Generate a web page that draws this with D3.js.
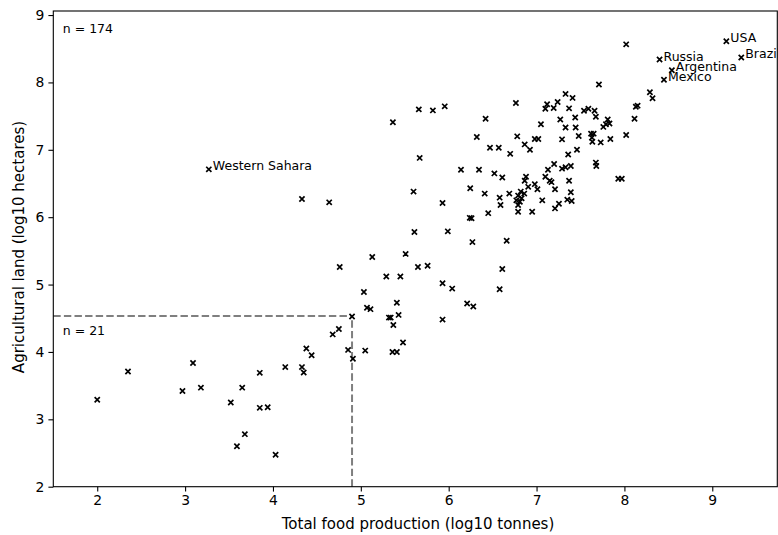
<!DOCTYPE html>
<html>
<head>
<meta charset="utf-8">
<script src="https://cdn.jsdelivr.net/npm/d3@7"></script>
<style>
  html, body { margin: 0; padding: 0; background: #fff; }
  svg { display: block; font-family: "DejaVu Sans", sans-serif; }
</style>
</head>
<body>
<svg id="chart" width="778" height="535"></svg>
<script>
// ---- Data (log10 values) ----
const foodProduction = [
  2.00, 2.35, 2.97, 3.09, 3.18, 3.52, 3.65, 3.59, 3.68, 3.85, 3.85, 3.94, 4.03, 4.14,
  4.38, 4.44, 4.33, 4.35, 4.855, 4.91, 5.05, 5.36, 5.41, 5.48,
  5.035, 5.07, 5.11, 4.90, 4.75, 4.68, 5.41, 5.32, 5.34, 5.43, 5.37, 5.93, 6.04, 6.21, 5.93, 6.28, 6.58,
  4.33, 4.64, 5.60, 5.93, 5.61, 5.99, 6.27, 6.66, 5.13, 5.51, 4.76, 5.65, 5.76, 5.29, 5.45, 6.61,
  3.27,
  5.365, 5.66, 5.82, 5.955, 5.67, 6.42, 6.765, 7.05, 6.32, 6.47, 6.57, 6.78, 6.70, 6.865, 6.925, 6.98, 7.02,
  6.14, 6.345, 6.52, 6.61, 6.88, 7.10,
  6.245, 6.41, 6.69, 6.58, 6.59, 6.24, 6.26, 6.45, 6.79, 6.95, 7.065,
  7.10, 7.12, 7.195, 7.24, 6.865, 7.20, 7.13, 7.15, 7.17, 6.98, 7.01, 6.905, 7.21,
  6.82, 6.86, 6.79, 6.83, 6.77, 6.81, 6.79, 7.21, 7.255,
  7.71, 7.33, 7.41, 8.29, 8.32, 7.37, 7.54, 7.59, 7.66, 7.675, 8.13, 8.15, 8.115,
  7.27, 7.44, 7.445, 7.33, 7.81, 7.79, 7.83, 7.76, 7.29, 7.48, 7.62, 7.65, 7.63, 7.635,
  7.73, 7.84, 8.02, 7.46, 7.36, 7.29, 7.33, 7.39, 7.675, 7.68, 7.37, 7.39, 7.35, 7.40,
  7.93, 7.97, 8.02, 8.40, 8.54, 8.45, 9.16, 9.33
];
const agriculturalLand = [
  3.29, 3.71, 3.42, 3.835, 3.47, 3.25, 3.47, 2.60, 2.78, 3.69, 3.17, 3.18, 2.475, 3.775,
  4.05, 3.95, 3.775, 3.695, 4.03, 3.90, 4.02, 4.00, 4.00, 4.14,
  4.89, 4.655, 4.635, 4.525, 4.34, 4.26, 4.73, 4.51, 4.51, 4.55, 4.40, 5.02, 4.94, 4.72, 4.48, 4.675, 4.93,
  6.27, 6.22, 6.38, 6.21, 5.78, 5.79, 5.63, 5.65, 5.41, 5.455, 5.26, 5.26, 5.28, 5.12, 5.12, 5.23,
  6.71,
  7.41, 7.60, 7.585, 7.645, 6.88, 7.46, 7.695, 7.38, 7.19, 7.03, 7.03, 7.20, 6.94, 7.08, 7.00, 7.16, 7.16,
  6.705, 6.705, 6.65, 6.59, 6.60, 6.60,
  6.43, 6.35, 6.35, 6.29, 6.18, 5.99, 5.985, 6.06, 6.08, 6.08, 6.25,
  7.61, 7.675, 7.62, 7.71, 6.54, 6.79, 6.705, 6.54, 6.52, 6.49, 6.415, 6.45, 6.415,
  6.38, 6.35, 6.32, 6.28, 6.25, 6.23, 6.18, 6.13, 6.20,
  7.97, 7.83, 7.77, 7.855, 7.765, 7.615, 7.58, 7.61, 7.58, 7.49, 7.64, 7.655, 7.46,
  7.45, 7.48, 7.33, 7.33, 7.45, 7.38, 7.39, 7.34, 7.155, 7.205, 7.24, 7.24, 7.18, 7.12,
  7.11, 7.16, 7.22, 7.00, 6.93, 6.72, 6.74, 6.76, 6.81, 6.76, 6.54, 6.37, 6.26, 6.24,
  6.57, 6.57, 8.565, 8.34, 8.18, 8.04, 8.61, 8.37
];

// Annotated countries
const labelNames = ["Western Sahara", "Russia", "Argentina", "Mexico", "USA", "Brazil"];
const labelFood  = [3.27, 8.40, 8.54, 8.45, 9.16, 9.33];
const labelLand  = [6.71, 8.34, 8.18, 8.04, 8.61, 8.37];

// Threshold lines and counts
const thresholdFood = 4.90;
const thresholdLand = 4.535;
const countTotal = "n = 174";
const countLow = "n = 21";

const xTicks = [2, 3, 4, 5, 6, 7, 8, 9];
const yTicks = [2, 3, 4, 5, 6, 7, 8, 9];
const xDomain = [1.5, 9.74];
const yDomain = [2, 9.06];

(function () {
  const svg = d3.select("#chart");
  const pL = 53.3, pR = 777.3, pT = 11, pB = 486.7;

  const x = d3.scaleLinear().domain(xDomain).range([pL, pR]);
  const y = d3.scaleLinear().domain(yDomain).range([pB, pT]);

  // Threshold dashed lines
  const dashStyle = g => g.attr("stroke", "#7f7f7f").attr("stroke-width", 2)
    .attr("stroke-dasharray", "7.4,3.2").attr("fill", "none");
  svg.append("line")
    .attr("x1", x(xDomain[0])).attr("x2", x(thresholdFood))
    .attr("y1", y(thresholdLand)).attr("y2", y(thresholdLand))
    .call(dashStyle);
  svg.append("line")
    .attr("x1", x(thresholdFood)).attr("x2", x(thresholdFood))
    .attr("y1", y(yDomain[0])).attr("y2", y(thresholdLand))
    .call(dashStyle);

  // Points (x markers)
  const pts = d3.range(foodProduction.length).map(i => [foodProduction[i], agriculturalLand[i]]);
  const s = 2.6;
  svg.append("g").selectAll("path").data(pts).join("path")
    .attr("transform", d => `translate(${x(d[0])},${y(d[1])})`)
    .attr("d", `M${-s},${-s}L${s},${s}M${-s},${s}L${s},${-s}`)
    .attr("stroke", "#000").attr("stroke-width", 1.7).attr("fill", "none");

  // Axes
  const xAxis = d3.axisBottom(x).tickValues(xTicks).tickFormat(d3.format("d")).tickSizeOuter(0).tickSize(4.9).tickPadding(4);
  const yAxis = d3.axisLeft(y).tickValues(yTicks).tickFormat(d3.format("d")).tickSizeOuter(0).tickSize(4.9).tickPadding(4);

  const gx = svg.append("g").attr("transform", `translate(0,${pB})`).call(xAxis);
  const gy = svg.append("g").attr("transform", `translate(${pL},0)`).call(yAxis);
  [gx, gy].forEach(g => {
    g.select(".domain").remove();
    g.selectAll(".tick line").attr("stroke", "#000").attr("stroke-width", 1.1);
    g.selectAll(".tick text").attr("fill", "#000").attr("font-size", 13.9)
      .attr("font-family", "DejaVu Sans, sans-serif");
  });

  // Spines (frame)
  svg.append("rect")
    .attr("x", pL).attr("y", pT)
    .attr("width", pR - pL).attr("height", pB - pT)
    .attr("fill", "none").attr("stroke", "#000").attr("stroke-width", 1.1);

  // Axis labels
  svg.append("text")
    .attr("x", 418).attr("y", 529)
    .attr("text-anchor", "middle").attr("font-size", 15).attr("fill", "#000")
    .text("Total food production (log10 tonnes)");
  svg.append("text")
    .attr("transform", `translate(23.5,247) rotate(-90)`)
    .attr("text-anchor", "middle").attr("font-size", 15).attr("fill", "#000")
    .text("Agricultural land (log10 hectares)");

  // Country annotations
  svg.append("g").selectAll("text").data(labelNames).join("text")
    .attr("x", (d, i) => x(labelFood[i]) + 4)
    .attr("y", (d, i) => y(labelLand[i]) + 1)
    .attr("font-size", 12.5).attr("fill", "#000")
    .text(d => d);

  // Count texts
  svg.append("text").attr("x", pL + 9.5).attr("y", pT + 22)
    .attr("font-size", 12.5).attr("fill", "#000").text(countTotal);
  svg.append("text").attr("x", pL + 9.5).attr("y", y(thresholdLand) + 19)
    .attr("font-size", 12.5).attr("fill", "#000").text(countLow);
})();
</script>
</body>
</html>
